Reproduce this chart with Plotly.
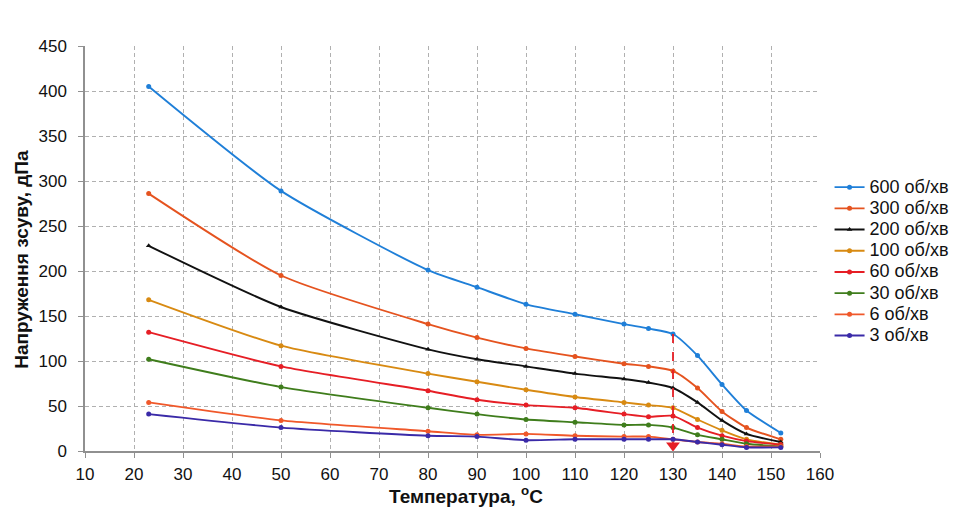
import plotly.graph_objects as go

temperature = [23, 50, 80, 90, 100, 110, 120, 125, 130, 135, 140, 145, 152]

s600 = [405, 289, 201, 182, 163, 152, 141, 136, 130, 106, 74, 45, 20]
s300 = [286, 195, 141, 126, 114, 105, 97, 94, 89, 70, 44, 26, 13]
s200 = [228, 160, 113, 102, 94, 86, 80, 76, 70, 54, 34, 19, 10]
s100 = [168, 117, 86, 77, 68, 60, 54, 51, 48, 35, 23, 13, 7]
s60 = [132, 94, 67, 57, 51, 48, 41, 38, 39, 26, 17, 11, 7]
s30 = [102, 71, 48, 41, 35, 32, 29, 29, 26, 18, 13, 8, 5]
s6 = [54, 34, 22, 18, 19, 17, 16, 16, 13, 10, 8, 5, 5]
s3 = [41, 26, 17, 16, 12, 13, 13, 13, 13, 10, 7, 4, 4]

series_names = ["600 об/хв", "300 об/хв", "200 об/хв", "100 об/хв",
                "60 об/хв", "30 об/хв", "6 об/хв", "3 об/хв"]
series_values = [s600, s300, s200, s100, s60, s30, s6, s3]
series_colors = ["#1f7fd8", "#e5531f", "#111111", "#d88a12",
                 "#e61e25", "#3f7d1c", "#f0582a", "#3a2aa8"]
series_symbols = ["circle", "circle", "triangle-up", "circle",
                  "circle", "circle", "circle", "circle"]

transition_temp = 130

x_ticks = list(range(10, 161, 10))
y_ticks = list(range(0, 451, 50))

x_title = "Температура, <sup>o</sup>C"
y_title = "Напруження зсуву, дПа"

fig = go.Figure()

for name, vals, col, sym in zip(series_names, series_values, series_colors, series_symbols):
    fig.add_trace(go.Scatter(
        x=temperature, y=vals,
        name="<span style='font-size:18px'>" + name + "</span>",
        mode="lines+markers",
        line=dict(color=col, width=1.9, shape="spline", smoothing=0.6),
        marker=dict(color=col, size=5, symbol=sym),
    ))

# dashed red marker line at transition temperature
idx = temperature.index(transition_temp)
top_val = s600[idx]
fig.add_trace(go.Scatter(
    x=[transition_temp, transition_temp], y=[top_val, 8],
    mode="lines", line=dict(color="#e61e25", width=1.8, dash="dash"),
    showlegend=False, hoverinfo="skip",
))
fig.add_trace(go.Scatter(
    x=[transition_temp], y=[6], mode="markers",
    marker=dict(symbol="triangle-down", size=12, color="#e61e25"),
    showlegend=False, hoverinfo="skip",
))

font_family = "Arial, Liberation Sans, sans-serif"

fig.update_layout(
    width=966, height=522,
    margin=dict(l=85, r=144, t=46, b=71),
    paper_bgcolor="white", plot_bgcolor="white",
    font=dict(family=font_family, size=17, color="#111111"),
    showlegend=True,
    legend=dict(
        x=1.013, y=0.69, xanchor="left", yanchor="top",
        font=dict(size=14, color="#111111"),
        bgcolor="rgba(0,0,0,0)", itemwidth=30, tracegroupgap=0,
    ),
    xaxis=dict(
        range=[10, 160], tickvals=x_ticks, ticktext=[str(v) for v in x_ticks],
        showgrid=True, gridcolor="#b0b0b0", griddash="4px,3px", gridwidth=1,
        showline=True, linecolor="#909090", linewidth=1.5,
        ticks="outside", ticklen=5, tickcolor="#909090",
        zeroline=False, tickfont=dict(size=17), ticklabelstandoff=2,
    ),
    yaxis=dict(
        range=[0, 450], tickvals=y_ticks, ticktext=[str(v) for v in y_ticks],
        showgrid=True, gridcolor="#b0b0b0", griddash="4px,3px", gridwidth=1,
        showline=True, linecolor="#909090", linewidth=1.5,
        ticks="outside", ticklen=5, tickcolor="#909090",
        zeroline=False, tickfont=dict(size=17), ticklabelstandoff=8,
    ),
    annotations=[
        dict(text="<b>" + x_title + "</b>", xref="paper", yref="paper",
             x=0.519, y=0, xanchor="center", yanchor="top", yshift=-30,
             showarrow=False, font=dict(size=19, color="#111111")),
        dict(text="<b>" + y_title + "</b>", xref="paper", yref="paper",
             x=0, y=0.472, xanchor="center", yanchor="middle", xshift=-63,
             textangle=-90, showarrow=False, font=dict(size=19, color="#111111")),
    ],
)

fig.write_html("out.html")
